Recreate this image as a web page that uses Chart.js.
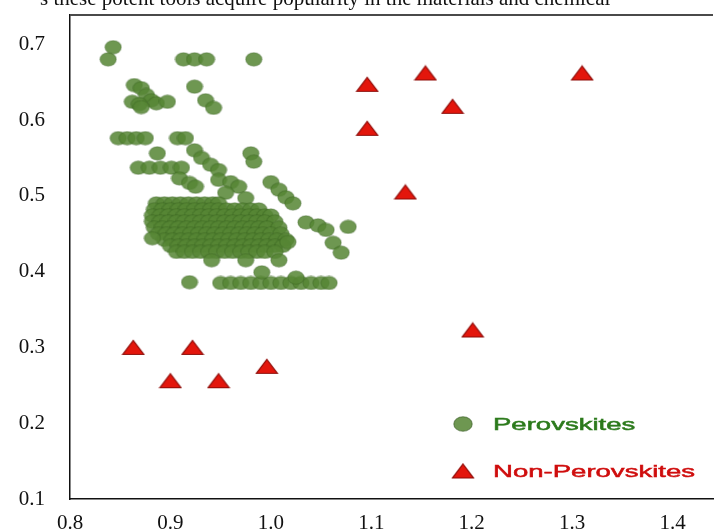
<!DOCTYPE html>
<html>
<head>
<meta charset="utf-8">
<script src="https://cdn.jsdelivr.net/npm/chart.js@4.4.1/dist/chart.umd.min.js"></script>
<style>
  html, body { margin: 0; padding: 0; background: #fff; overflow: hidden; }
  #wrap { position: relative; width: 718px; height: 531px; overflow: hidden; }
  #chart { position: absolute; left: 0; top: 0; }
  #lead {
    position: absolute; left: 40px; top: -12px;
    font: 21px "Liberation Serif", serif; line-height: 21px;
    color: #111; white-space: nowrap;
  }
</style>
</head>
<body>
<div id="wrap">
  <canvas id="chart" width="718" height="531"></canvas>
  <div id="lead">s these potent tools acquire popularity in the materials and chemical</div>
</div>
<script>
// Tick labels for both axes
const xTickValues = [0.8, 0.9, 1.0, 1.1, 1.2, 1.3, 1.4];
const yTickValues = [0.1, 0.2, 0.3, 0.4, 0.5, 0.6, 0.7];

// Series names
const seriesNames = ['Perovskites', 'Non-Perovskites'];

// Perovskite compounds: [x, y]
const perovskites = [
  [0.843, 0.696], [0.838, 0.680],
  [0.913, 0.680], [0.924, 0.680], [0.936, 0.680],
  [0.983, 0.680],
  [0.864, 0.646], [0.871, 0.642], [0.876, 0.633], [0.881, 0.626], [0.862, 0.624],
  [0.869, 0.621], [0.886, 0.622], [0.897, 0.624], [0.871, 0.617],
  [0.924, 0.644], [0.935, 0.626], [0.943, 0.616],
  [0.848, 0.576], [0.857, 0.576], [0.866, 0.576], [0.875, 0.576], [0.907, 0.576], [0.915, 0.576],
  [0.887, 0.556],
  [0.924, 0.560], [0.931, 0.550], [0.940, 0.541], [0.948, 0.534],
  [0.980, 0.556], [0.983, 0.545],
  [0.868, 0.537], [0.879, 0.537], [0.890, 0.537], [0.901, 0.537], [0.911, 0.537],
  [0.909, 0.523], [0.919, 0.517], [0.925, 0.512],
  [0.948, 0.521], [0.960, 0.518], [0.968, 0.512], [0.955, 0.504], [0.975, 0.497],
  [1.000, 0.518], [1.008, 0.508], [1.015, 0.498], [1.022, 0.490],
  // dense core
  [0.886, 0.490], [0.894, 0.490], [0.902, 0.490], [0.910, 0.490], [0.918, 0.490], [0.926, 0.490],
  [0.934, 0.490], [0.942, 0.490], [0.948, 0.490],
  [0.884, 0.482], [0.892, 0.482], [0.900, 0.482], [0.908, 0.482], [0.916, 0.482], [0.924, 0.482],
  [0.932, 0.482], [0.940, 0.482], [0.948, 0.482], [0.956, 0.482], [0.964, 0.482], [0.972, 0.482],
  [0.980, 0.482], [0.988, 0.482],
  [0.882, 0.474], [0.890, 0.474], [0.898, 0.474], [0.906, 0.474], [0.914, 0.474], [0.922, 0.474],
  [0.930, 0.474], [0.938, 0.474], [0.946, 0.474], [0.954, 0.474], [0.962, 0.474], [0.970, 0.474],
  [0.978, 0.474], [0.986, 0.474], [0.994, 0.474], [1.000, 0.474],
  [0.882, 0.466], [0.890, 0.466], [0.898, 0.466], [0.906, 0.466], [0.914, 0.466], [0.922, 0.466],
  [0.930, 0.466], [0.938, 0.466], [0.946, 0.466], [0.954, 0.466], [0.962, 0.466], [0.970, 0.466],
  [0.978, 0.466], [0.986, 0.466], [0.994, 0.466], [1.004, 0.466],
  [0.884, 0.458], [0.892, 0.458], [0.900, 0.458], [0.908, 0.458], [0.916, 0.458], [0.924, 0.458],
  [0.932, 0.458], [0.940, 0.458], [0.948, 0.458], [0.956, 0.458], [0.964, 0.458], [0.972, 0.458],
  [0.980, 0.458], [0.988, 0.458], [0.996, 0.458], [1.008, 0.458],
  [0.888, 0.450], [0.896, 0.450], [0.904, 0.450], [0.912, 0.450], [0.920, 0.450], [0.928, 0.450],
  [0.936, 0.450], [0.944, 0.450], [0.952, 0.450], [0.960, 0.450], [0.968, 0.450], [0.976, 0.450],
  [0.984, 0.450], [0.992, 0.450], [1.000, 0.450], [1.010, 0.450],
  [0.894, 0.442], [0.902, 0.442], [0.910, 0.442], [0.918, 0.442], [0.926, 0.442], [0.934, 0.442],
  [0.942, 0.442], [0.950, 0.442], [0.958, 0.442], [0.966, 0.442], [0.974, 0.442], [0.982, 0.442],
  [0.990, 0.442], [0.998, 0.442], [1.006, 0.442], [1.015, 0.442],
  [0.900, 0.434], [0.908, 0.434], [0.916, 0.434], [0.924, 0.434], [0.932, 0.434], [0.940, 0.434],
  [0.948, 0.434], [0.956, 0.434], [0.964, 0.434], [0.972, 0.434], [0.980, 0.434], [0.988, 0.434],
  [0.996, 0.434], [1.004, 0.434], [1.012, 0.434],
  [0.906, 0.426], [0.914, 0.426], [0.922, 0.426], [0.930, 0.426], [0.938, 0.426], [0.946, 0.426],
  [0.954, 0.426], [0.962, 0.426], [0.970, 0.426], [0.978, 0.426], [0.986, 0.426], [0.994, 0.426],
  [1.004, 0.426],
  // scattered around the core
  [0.882, 0.444], [0.941, 0.415], [0.975, 0.415], [1.008, 0.415], [1.017, 0.439],
  [1.035, 0.465], [1.047, 0.461], [1.055, 0.455], [1.062, 0.438], [1.070, 0.425], [1.077, 0.459],
  [0.919, 0.386],
  [0.950, 0.385], [0.960, 0.385], [0.970, 0.385], [0.980, 0.385], [0.990, 0.385], [1.000, 0.385],
  [1.010, 0.385], [1.020, 0.385], [1.030, 0.385], [1.040, 0.385], [1.050, 0.385], [1.058, 0.385],
  [0.991, 0.399], [1.025, 0.392]
];

// Non-perovskite compounds: [x, y]
const nonPerovskites = [
  [1.096, 0.647], [1.154, 0.662], [1.310, 0.662], [1.181, 0.618], [1.096, 0.589],
  [1.134, 0.505], [1.201, 0.323],
  [0.863, 0.300], [0.922, 0.300], [0.900, 0.256], [0.948, 0.256], [0.996, 0.275]
];

// Marker sprites: a slightly flattened green disc and a flat red triangle
function discMarker(w, h, edgeAlpha) {
  const c = document.createElement('canvas');
  c.width = w; c.height = h;
  const g = c.getContext('2d');
  g.beginPath();
  g.ellipse(w / 2, h / 2, w / 2 - 0.8, h / 2 - 0.8, 0, 0, Math.PI * 2);
  g.fillStyle = 'rgba(86,134,52,0.86)';
  g.fill();
  g.lineWidth = 1.1;
  g.strokeStyle = 'rgba(48,86,26,' + edgeAlpha + ')';
  g.stroke();
  return c;
}
function triangleMarker() {
  const c = document.createElement('canvas');
  c.width = 24; c.height = 17;
  const g = c.getContext('2d');
  g.beginPath();
  g.moveTo(12, 1.5);
  g.lineTo(22.5, 15.5);
  g.lineTo(1.5, 15.5);
  g.closePath();
  g.fillStyle = '#e3160c';
  g.fill();
  g.lineWidth = 1.2;
  g.strokeStyle = '#8e0a06';
  g.stroke();
  return c;
}
const disc = discMarker(18, 15, 0.3);
const legendDisc = discMarker(20, 16, 0.6);
const tri = triangleMarker();

const toPoints = rows => rows.map(([x, y]) => ({ x, y }));

// In-plot legend, lower right
const insetLegend = {
  id: 'insetLegend',
  afterDraw(chart, args, opts) {
    const ctx = chart.ctx;
    chart.data.datasets.forEach((ds, i) => {
      const y = opts.rows[i];
      const m = ds.legendMarker;
      ctx.drawImage(m, opts.markerX - m.width / 2, y - m.height / 2);
      ctx.save();
      ctx.translate(opts.textX, y);
      ctx.scale(opts.stretch, 1);
      ctx.font = opts.font;
      ctx.fillStyle = ds.labelColor;
      ctx.strokeStyle = ds.labelColor;
      ctx.lineWidth = 0.5;
      ctx.textBaseline = 'middle';
      ctx.textAlign = 'left';
      ctx.fillText(ds.label, 0, 1);
      ctx.strokeText(ds.label, 0, 1);
      ctx.restore();
    });
  }
};

// Grey frame line along the top of the plot area
const topFrame = {
  id: 'topFrame',
  afterDraw(chart) {
    const { ctx, chartArea } = chart;
    ctx.save();
    ctx.strokeStyle = '#4a4a4a';
    ctx.lineWidth = 2;
    ctx.beginPath();
    ctx.moveTo(chartArea.left, chartArea.top);
    ctx.lineTo(chartArea.right, chartArea.top);
    ctx.stroke();
    ctx.restore();
  }
};

const tickFont = { family: '"Liberation Serif", serif', size: 21 };

new Chart(document.getElementById('chart'), {
  type: 'scatter',
  data: {
    datasets: [
      {
        label: seriesNames[0],
        data: toPoints(perovskites),
        pointStyle: disc,
        legendMarker: legendDisc,
        labelColor: '#2c7a1c'
      },
      {
        label: seriesNames[1],
        data: toPoints(nonPerovskites),
        pointStyle: tri,
        legendMarker: tri,
        labelColor: '#cf0d0d'
      }
    ]
  },
  options: {
    responsive: false,
    animation: false,
    events: [],
    layout: { padding: { top: 15, left: 0, right: 0, bottom: 0 } },
    plugins: {
      legend: { display: false },
      tooltip: { enabled: false },
      insetLegend: {
        markerX: 463, textX: 493, rows: [424, 471],
        font: '17px "Liberation Sans", sans-serif', stretch: 1.62
      }
    },
    scales: {
      x: {
        type: 'linear',
        min: 0.8,
        max: 1.4403,
        grid: { display: false, drawTicks: false },
        border: { display: true, color: '#111', width: 1.5 },
        afterBuildTicks: axis => { axis.ticks = xTickValues.map(v => ({ value: v })); },
        afterFit: axis => {
          axis.height = 32;
          axis.paddingLeft = 0; axis.paddingRight = 0;
          axis.paddingTop = 0; axis.paddingBottom = 0;
        },
        ticks: {
          font: tickFont, color: '#111', padding: 12, maxRotation: 0,
          callback: v => Number(v).toFixed(1)
        }
      },
      y: {
        type: 'linear',
        min: 0.1,
        max: 0.7385,
        grid: { display: false, drawTicks: false },
        border: { display: true, color: '#111', width: 1.5 },
        afterBuildTicks: axis => { axis.ticks = yTickValues.map(v => ({ value: v })); },
        afterFit: axis => {
          axis.width = 70;
          axis.paddingLeft = 0; axis.paddingRight = 0;
          axis.paddingTop = 0; axis.paddingBottom = 0;
        },
        ticks: {
          font: tickFont, color: '#111', padding: 25,
          callback: v => Number(v).toFixed(1)
        }
      }
    }
  },
  plugins: [insetLegend, topFrame]
});
</script>
</body>
</html>
